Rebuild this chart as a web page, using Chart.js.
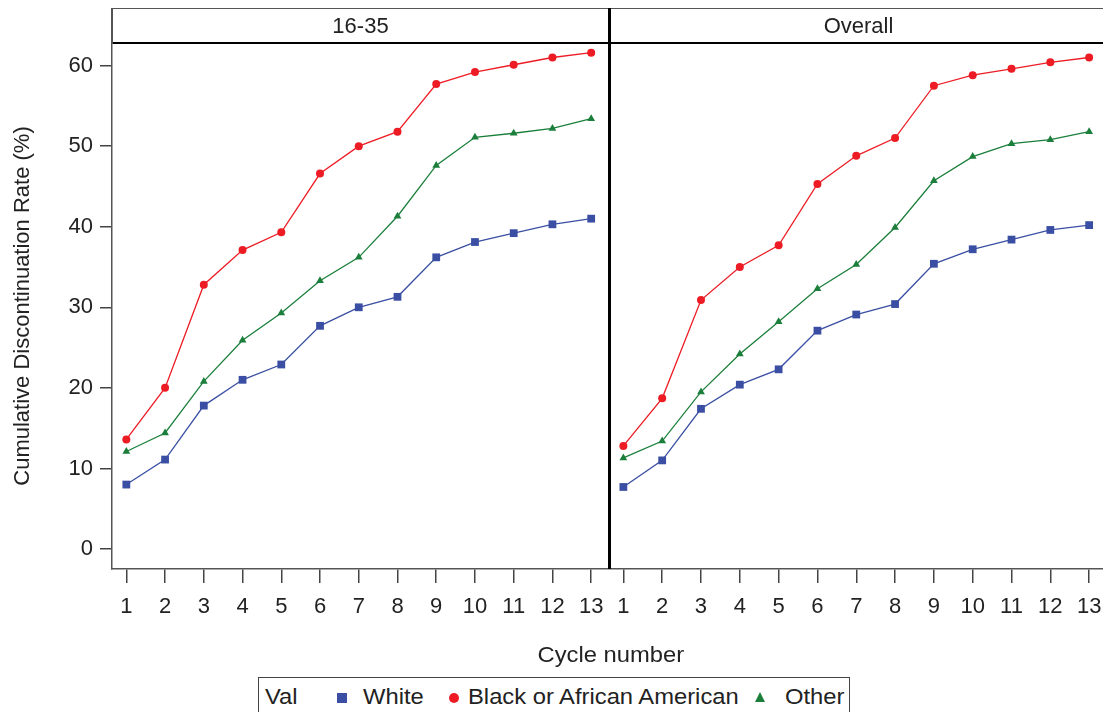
<!DOCTYPE html>
<html>
<head>
<meta charset="utf-8">
<script src="https://cdn.jsdelivr.net/npm/chart.js@4"></script>
<style>
  body { margin: 0; background: #fff; }
  #wrap { position: relative; width: 1103px; height: 712px; overflow: hidden; background: #fff;
          font-family: "Liberation Sans", Arial, sans-serif; color: #222; }
  .abs { position: absolute; }
  .line { position: absolute; }
  .strip { position: absolute; top: 8px; height: 34px; line-height: 35px; text-align: center; font-size: 22px; }
  canvas { position: absolute; }
  #legend { position: absolute; left: 258px; top: 677px; width: 592px; height: 50px; border: 1.5px solid #444; box-sizing: border-box; }
  #legend span { position: absolute; top: 6px; font-size: 22px; line-height: 26px; transform: scaleX(1.08); transform-origin: left center; }
  .mk { position: absolute; }
</style>
</head>
<body>
<div id="wrap">
  <canvas id="left" width="609" height="600" style="left:0;top:43px"></canvas>
  <canvas id="right" width="498" height="600" style="left:609px;top:43px"></canvas>

  <!-- facet strips -->
  <div class="line" style="left:111px;top:8px;width:1000px;height:1px;background:#555"></div>
  <div class="line" style="left:111px;top:42px;width:1000px;height:2px;background:#000"></div>
  <div class="line" style="left:111px;top:8px;width:1.5px;height:36px;background:#555"></div>
  <div class="line" style="left:608px;top:8px;width:3px;height:561px;background:#000"></div>
  <div class="strip" id="strip0" style="left:112px;width:497px"></div>
  <div class="strip" id="strip1" style="left:610px;width:497px"></div>

  <div class="abs" id="xtitle" style="left:0;top:642px;width:1222px;text-align:center;font-size:22px;line-height:26px"><span style="display:inline-block;transform:scaleX(1.08)" id="xtitleText"></span></div>

  <div id="legend">
    <span style="left:6px">Val</span>
    <div class="mk" style="left:78px;top:15px;width:10px;height:10px;background:#3a4fa3"></div>
    <span id="lg0" style="left:104px"></span>
    <div class="mk" style="left:190px;top:15px;width:10px;height:10px;border-radius:50%;background:#ed1c24"></div>
    <span id="lg1" style="left:209px"></span>
    <div class="mk" style="left:496px;top:14px;width:0;height:0;border-left:5.5px solid transparent;border-right:5.5px solid transparent;border-bottom:10px solid #1b7f3b"></div>
    <span id="lg2" style="left:526px"></span>
  </div>
</div>

<script>
// Cumulative discontinuation rate (%) by cycle

const cycles = [1, 2, 3, 4, 5, 6, 7, 8, 9, 10, 11, 12, 13];
const yTicks = [0, 10, 20, 30, 40, 50, 60];
const panelTitles = ['16-35', 'Overall'];
const seriesNames = ['White', 'Black or African American', 'Other'];

// 16-35 panel
const youngWhite = [8.0, 11.1, 17.8, 21.0, 22.9, 27.7, 30.0, 31.3, 36.2, 38.1, 39.2, 40.3, 41.0];
const youngBlack = [13.6, 20.0, 32.8, 37.1, 39.3, 46.6, 50.0, 51.8, 57.7, 59.2, 60.1, 61.0, 61.6];
const youngOther = [12.1, 14.4, 20.8, 25.9, 29.3, 33.3, 36.2, 41.3, 47.6, 51.1, 51.6, 52.2, 53.4];

// Overall panel
const overallWhite = [7.7, 11.0, 17.4, 20.4, 22.3, 27.1, 29.1, 30.4, 35.4, 37.2, 38.4, 39.6, 40.2];
const overallBlack = [12.8, 18.7, 30.9, 35.0, 37.7, 45.3, 48.8, 51.0, 57.5, 58.8, 59.6, 60.4, 61.0];
const overallOther = [11.3, 13.4, 19.5, 24.2, 28.2, 32.3, 35.3, 39.9, 45.7, 48.7, 50.3, 50.8, 51.8];

const FONT = '"Liberation Sans", Arial, sans-serif';
const TEXT = '#222';
const AXIS = '#555';

// fill in the html text
document.getElementById('strip0').textContent = panelTitles[0];
document.getElementById('strip1').textContent = panelTitles[1];
document.getElementById('xtitleText').textContent = 'Cycle number';
seriesNames.forEach((n, i) => { document.getElementById('lg' + i).textContent = n; });

function series(label, values, color, style, radius) {
  return {
    label: label,
    data: cycles.map((c, i) => ({ x: c, y: values[i] })),
    borderColor: color,
    backgroundColor: color,
    borderWidth: 1.3,
    pointStyle: style,
    pointRadius: radius,
    pointBorderWidth: 0,
    pointBackgroundColor: color,
    tension: 0
  };
}

function makePanel(id, white, black, other, showY) {
  const yScale = {
    type: 'linear',
    min: -2.48,
    max: 62.8,
    display: showY,
    afterBuildTicks: axis => { axis.ticks = yTicks.map(v => ({ value: v })); },
    afterFit: axis => {
      if (showY) axis.width = 112;
      // no extra room for half-labels, plot runs right up to the strip
      axis.paddingTop = 0;
      axis.paddingBottom = 0;
    },
    ticks: { color: TEXT, font: { family: FONT, size: 22 }, padding: 7 },
    grid: { drawOnChartArea: false, tickLength: 12, color: '#444', lineWidth: 1.5 },
    border: { color: AXIS, width: 1.5 },
    title: {
      display: true,
      text: 'Cumulative Discontinuation Rate (%)',
      color: TEXT,
      font: { family: FONT, size: 22 },
      padding: { top: 10, bottom: 0 }
    }
  };

  return new Chart(document.getElementById(id), {
    type: 'line',
    data: {
      datasets: [
        series(seriesNames[0], white, '#3a4fa3', 'rect', 5.5),
        series(seriesNames[1], black, '#ed1c24', 'circle', 4),
        series(seriesNames[2], other, '#1b7f3b', 'triangle', 4.5)
      ]
    },
    options: {
      responsive: false,
      animation: false,
      devicePixelRatio: 1,
      layout: { padding: 0, autoPadding: false },
      plugins: { legend: { display: false }, tooltip: { enabled: false } },
      scales: {
        x: {
          type: 'linear',
          min: 0.63,
          max: 13.46,
          afterBuildTicks: axis => { axis.ticks = cycles.map(v => ({ value: v })); },
          afterFit: axis => {
            axis.height = 74;
            axis.paddingLeft = 0;
            axis.paddingRight = 0;
          },
          ticks: { color: TEXT, font: { family: FONT, size: 22 }, padding: 11, autoSkip: false, maxRotation: 0 },
          grid: { drawOnChartArea: false, tickLength: 14, color: '#444', lineWidth: 1.5 },
          border: { color: AXIS, width: 1.5 }
        },
        y: yScale
      }
    }
  });
}

makePanel('left', youngWhite, youngBlack, youngOther, true);
makePanel('right', overallWhite, overallBlack, overallOther, false);
</script>
</body>
</html>
